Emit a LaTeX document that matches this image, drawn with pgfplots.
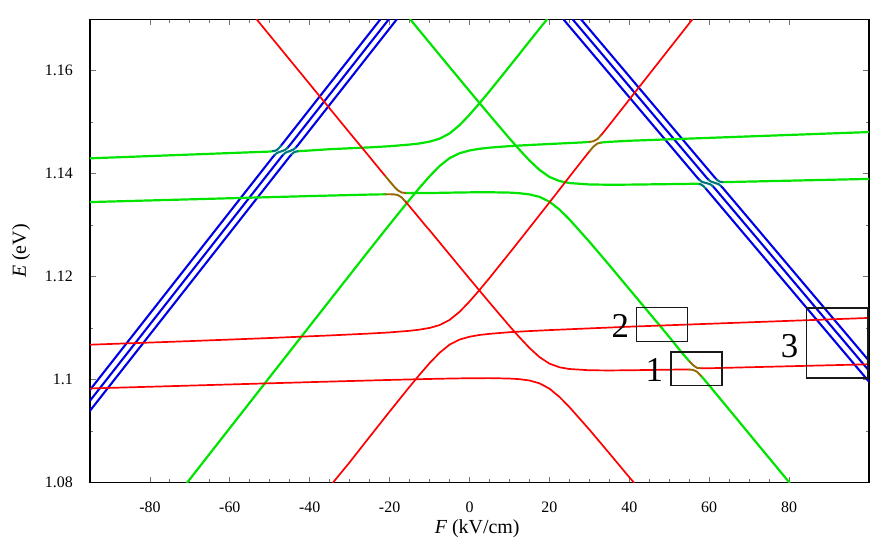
\documentclass[border=0pt]{standalone}
\usepackage{fontspec}
\setmainfont{Liberation Serif}
\usepackage{pgfplots}
\pgfplotsset{compat=1.18}
\definecolor{lred}{RGB}{255,0,0}
\definecolor{lgreen}{RGB}{0,228,0}
\definecolor{lblue}{RGB}{0,0,230}
\definecolor{lbrown}{RGB}{150,105,0}
\definecolor{lteal}{RGB}{0,120,125}
\pgfplotsset{
  rl/.style={lred, line width=1.7bp, line cap=round, line join=round},
  gl/.style={lgreen, line width=2.2bp, line cap=round, line join=round},
  bl/.style={lblue, line width=2.1bp, line cap=round, line join=round},
  br/.style={lbrown, line width=1.9bp, line cap=round, line join=round},
  tl/.style={lteal, line width=2.1bp, line cap=round, line join=round},
  bx/.style={black!90, line width=1.5bp, line join=miter},
}
\begin{document}
\begin{tikzpicture}
\begin{axis}[
  scale only axis, width=779bp, height=463.4bp,
  xmin=-95, xmax=100, ymin=1.08, ymax=1.17,
  xtick={-80,-60,-40,-20,0,20,40,60,80}, minor x tick num=3,
  ytick={1.08,1.10,1.12,1.14,1.16}, minor y tick num=1,
  tick align=inside, tick pos=both,
  major tick length=6bp, minor tick length=3.5bp,
  every tick/.style={black!55, line width=0.8bp},
  axis line style={line width=1.2bp, black},
  /pgf/number format/assume math mode=true,
  ticklabel style={font=\fontsize{16}{16}\selectfont},
  yticklabel style={anchor=east, inner sep=0pt, xshift=-17bp},
  xticklabel style={anchor=north, inner sep=0pt, yshift=-19bp},
  xlabel={\textit{F} (kV/cm)}, ylabel={\textit{E} (eV)},
  label style={font=\fontsize{20}{20}\selectfont},
  xlabel style={at={(axis description cs:0.497,-0.110)}, anchor=base},
  ylabel style={at={(axis description cs:-0.0822,0.5)}, anchor=base},
  clip=true,
]
% ---------- blue ascending (with small anticrossings at the upper green level)
\addplot[bl] coordinates {(-47.24,1.14540) (-22.3,1.17)};
\addplot[bl] coordinates {(-95,1.09803) (-49.24,1.14324) (-48.74,1.14368)};
\addplot[bl] coordinates {(-45.58,1.14502) (-45.08,1.14546) (-20.2,1.17)};
\addplot[bl] coordinates {(-95,1.09592) (-47.08,1.14330) (-46.58,1.14374)};
\addplot[bl] coordinates {(-43.51,1.14507) (-43.01,1.14551) (-18.2,1.17)};
\addplot[bl] coordinates {(-95,1.09397) (-45.01,1.14335) (-44.51,1.14379)};
% ---------- blue descending (with small anticrossings at the lower green level)
\addplot[bl] coordinates {(27.9,1.17) (61.4,1.13927) (61.9,1.13887)};
\addplot[bl] coordinates {(25.8,1.17) (59.35,1.13923) (59.85,1.13883)};
\addplot[bl] coordinates {(62.9,1.13765) (63.4,1.13725) (100,1.10367)};
\addplot[bl] coordinates {(23.5,1.17) (57.1,1.13918) (57.6,1.13878)};
\addplot[bl] coordinates {(60.85,1.13761) (61.35,1.13721) (100,1.10174)};
\addplot[bl] coordinates {(59.1,1.13716) (100,1.09962)};
% ---------- green
\addplot[gl] coordinates {(-95,1.1430) (-50,1.14431) (-49.24,1.14438)};
\addplot[gl] coordinates {(-43.01,1.14437) (-35,1.14477) (-25,1.14513) (-20,1.14535) (-15,1.14567) (-12.5,1.14589) (-10,1.14624) (-7.5,1.14681) (-5,1.14783) (-2.5,1.14943) (0,1.15146) (2.5,1.15369) (5,1.15603) (10,1.16084) (15,1.16573) (19.4,1.1700)};
\addplot[gl] coordinates {(-70.7,1.0800) (-40,1.11044) (-25,1.12527) (-20,1.13016) (-15,1.13496) (-12.5,1.13729) (-10,1.13951) (-7.5,1.14150) (-5,1.14303) (-2.5,1.14399) (0,1.14452) (2.5,1.14485) (5,1.14507) (10,1.14537) (15,1.14559) (20,1.14578) (28,1.14608) (30,1.14619)};
\addplot[br] coordinates {(30,1.14619) (31,1.14631) (32,1.14672) (33,1.14755)};
\addplot[rl] coordinates {(33,1.14755) (35,1.14948) (55.8,1.1700)};
\addplot[gl] coordinates {(-14.85,1.1700) (-10,1.16543) (-5,1.16073) (0,1.15606) (5,1.15142) (10,1.14687) (12.5,1.14467) (15,1.14259) (17.5,1.14076) (20,1.13939) (22.5,1.13859) (25,1.13820) (30,1.13792) (35,1.13787) (40,1.13789) (57.1,1.13806) (57.6,1.13801)};
\addplot[gl] coordinates {(63.4,1.13837) (100,1.1390)};
\addplot[gl] coordinates {(-95,1.1345) (-40,1.13567) (-26,1.13594) (-23,1.13599) (-21,1.13601)};
\addplot[br] coordinates {(-21,1.13601) (-20,1.13602) (-19,1.13600) (-18,1.13589) (-17,1.13541) (-16,1.13458)};
\addplot[gl] coordinates {(-16,1.13626) (-14,1.13625) (-10,1.13626) (-5,1.13633) (0,1.13639) (5,1.13641) (10,1.13634) (12.5,1.13622) (15,1.13599) (17.5,1.13552) (20,1.13458) (22.5,1.13306) (25,1.13114) (30,1.12681) (35,1.12224) (40,1.11759) (50,1.1083) (53,1.1054) (55,1.1036)};
\addplot[br] coordinates {(55,1.1036) (56,1.1028) (57,1.10228) (58,1.10222)};
\addplot[gl] coordinates {(58,1.10072) (60,1.09889) (63,1.09607) (80.1,1.0800)};
% ---------- red
\addplot[rl] coordinates {(-95,1.1068) (-70,1.1075) (-50,1.1081) (-35,1.1086) (-25,1.10897) (-20,1.10919) (-15,1.10950) (-12.5,1.10973) (-10,1.11006) (-7.5,1.11061) (-5,1.11161) (-2.5,1.11318) (0,1.11519) (2.5,1.11742) (5,1.11976) (10,1.12459) (15,1.12949) (20,1.13443) (28,1.14239) (30,1.14434)};
\addplot[br] coordinates {(30,1.14434) (31,1.14525) (32,1.14587) (33,1.14607)};
\addplot[gl] coordinates {(33,1.14607) (35,1.14620) (40,1.14641) (100,1.1481)};
\addplot[rl] coordinates {(-34.2,1.0800) (-30,1.08397) (-25,1.08891) (-20,1.09382) (-15,1.09864) (-12.5,1.10098) (-10,1.10322) (-7.5,1.10523) (-5,1.10681) (-2.5,1.10780) (0,1.10835) (2.5,1.10869) (5,1.10891) (10,1.10923) (15,1.10945) (20,1.10964) (40,1.1103) (100,1.1120)};
\addplot[rl] coordinates {(-53.3,1.1700) (-30,1.14795) (-26,1.14420) (-23,1.14136) (-21,1.13948)};
\addplot[br] coordinates {(-21,1.13948) (-20,1.13855) (-19,1.13763) (-18,1.13681) (-17,1.13636) (-16,1.13626)};
\addplot[rl] coordinates {(-16,1.13458) (-14,1.13273) (-11,1.12991) (-10,1.12903) (-5,1.12432) (0,1.11963) (5,1.11499) (10,1.11043) (12.5,1.10824) (15,1.10618) (17.5,1.10440) (20,1.10313) (22.5,1.10242) (25,1.10208) (30,1.10184) (35,1.10180) (40,1.10184) (50,1.10195) (53,1.10199) (55,1.10198)};
\addplot[br] coordinates {(55,1.10198) (56,1.10190) (57,1.10152) (58,1.10072)};
\addplot[rl] coordinates {(58,1.10222) (60,1.10223) (100,1.1030)};
\addplot[rl] coordinates {(-95,1.0983) (-40,1.09953) (-20,1.09996) (-10,1.10015) (-5,1.10023) (0,1.10029) (5,1.10031) (10,1.10023) (12.5,1.10011) (15,1.09985) (17.5,1.09931) (20,1.09827) (22.5,1.09667) (25,1.09469) (30,1.09031) (35,1.08571) (40,1.08105) (41.2,1.0800)};
% ---------- teal mixing segments (blue/green anticrossings)
\addplot[tl] coordinates {(-49.24,1.14438) (-48.74,1.14445) (-48.24,1.14462) (-47.74,1.14496) (-47.24,1.14540)};
\addplot[tl] coordinates {(-48.74,1.14368) (-48.24,1.14402) (-47.74,1.14419) (-47.16,1.14434) (-46.58,1.14451) (-46.08,1.14468) (-45.58,1.14502)};
\addplot[tl] coordinates {(-46.58,1.14374) (-46.08,1.14408) (-45.58,1.14425) (-45.05,1.14439) (-44.51,1.14456) (-44.01,1.14473) (-43.51,1.14507)};
\addplot[tl] coordinates {(-44.51,1.14379) (-44.01,1.14413) (-43.51,1.1443) (-43.01,1.14437)};
\addplot[tl] coordinates {(61.9,1.13887) (62.4,1.13856) (62.9,1.13842) (63.4,1.13837)};
\addplot[tl] coordinates {(59.85,1.13883) (60.35,1.13852) (60.85,1.13838) (61.38,1.13824) (61.9,1.1381) (62.4,1.13796) (62.9,1.13765)};
\addplot[tl] coordinates {(57.6,1.13878) (58.1,1.13847) (58.6,1.13833) (59.22,1.13820) (59.85,1.13806) (60.35,1.13792) (60.85,1.13761)};
\addplot[tl] coordinates {(57.6,1.13801) (58.1,1.13787) (58.6,1.13756) (59.1,1.13716)};
% ---------- boxes
\addplot[bx] coordinates {(50.4,1.09885) (63.2,1.09885) (63.2,1.10534) (50.4,1.10534) (50.4,1.09885)};
\addplot[bx] coordinates {(41.8,1.10740) (54.6,1.10740) (54.6,1.1140) (41.8,1.1140) (41.8,1.10740)};
\addplot[bx] coordinates {(84.3,1.10029) (99.75,1.10029) (99.75,1.11389) (84.3,1.11389) (84.3,1.10029)};
\node[font=\fontsize{35}{35}\selectfont, inner sep=0pt, anchor=center] at (axis cs:46.25,1.1019) {1};
\node[font=\fontsize{35}{35}\selectfont, inner sep=0pt, anchor=center] at (axis cs:37.75,1.11035) {2};
\node[font=\fontsize{35}{35}\selectfont, inner sep=0pt, anchor=center] at (axis cs:80.1,1.10646) {3};
\end{axis}
\pgfresetboundingbox
\path ([shift={(-90bp,-64.3bp)}]current axis.south west) rectangle ([shift={(12bp,19.3bp)}]current axis.north east);
\end{tikzpicture}
\end{document}
